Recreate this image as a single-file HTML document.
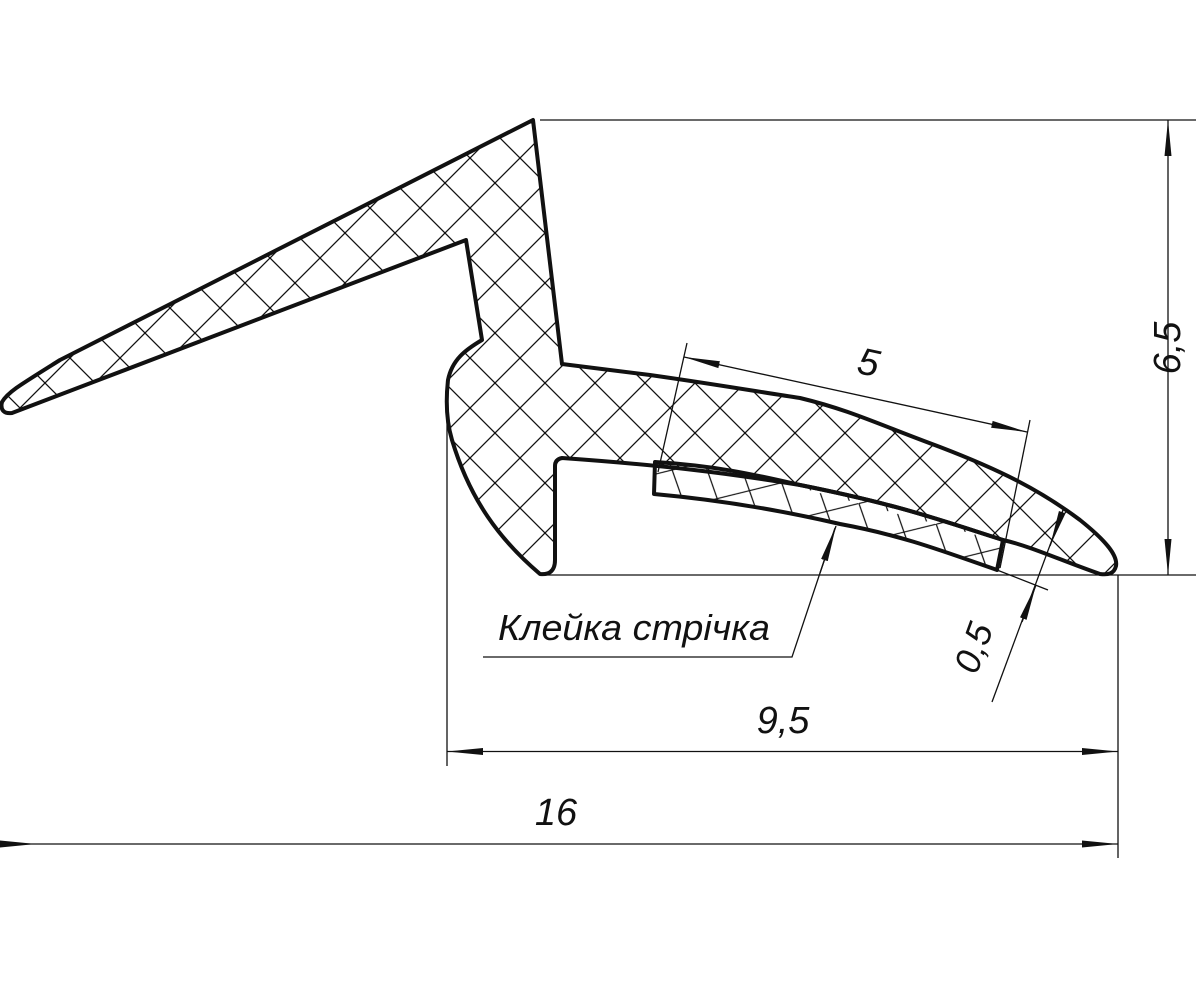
<!DOCTYPE html>
<html><head><meta charset="utf-8"><style>
html,body{margin:0;padding:0;background:#fff;}
svg{display:block}
text{font-family:"Liberation Sans","DejaVu Sans",sans-serif;font-style:italic;fill:#111;}
</style></head><body>
<svg width="1200" height="994" viewBox="0 0 1200 994" xmlns="http://www.w3.org/2000/svg">
<defs>
<pattern id="h" width="50" height="50" patternUnits="userSpaceOnUse" x="20" y="8">
<path d="M0 0L50 50M50 0L0 50M-5 45L5 55M45 -5L55 5M45 55L55 45M-5 5L5 -5" stroke="#111" stroke-width="1.3" fill="none"/>
</pattern>
<pattern id="t" width="80" height="44" patternUnits="userSpaceOnUse" patternTransform="rotate(15)">
<path d="M0 0L30 44M40 0L70 44M0 44L80 0" stroke="#111" stroke-width="1.2" fill="none"/>
</pattern>
<marker id="a" viewBox="0 0 36 10" refX="36" refY="5" markerWidth="36" markerHeight="10" markerUnits="userSpaceOnUse" orient="auto-start-reverse">
<path d="M0 1.5L36 5L0 8.5Z" fill="#111"/>
</marker>
</defs>

<path fill="url(#h)" stroke="#111" stroke-width="4" stroke-linejoin="round" d="
M533 120 L562 364 L650 375 C720 385 760 392 800 398 C850 410 880 425 940 447 C1000 470 1040 490 1080 520 C1105 540 1118 555 1116 566 C1114 574 1108 575 1100 574
C1060 560 1030 546 1003 540 C940 520 900 505 800 485 C720 472 660 465 562 458 C557 459 555 462 555 466 L555 560 C555 572 548 575 540 574 C500 540 470 500 452 440 C446 420 446 398 448 380 C452 360 465 350 482 340 L466 240 L12 413 C4 414 0 410 2 402 C8 392 20 385 60 360 Z"/>
<path fill="url(#t)" stroke="#111" stroke-width="4" stroke-linejoin="round" d="M655 462 C720 466 760 476 800 485 C900 505 940 520 1003 540 L997 570 C940 550 900 535 840 524 C780 510 720 500 654 494 Z"/>

<g stroke="#111" stroke-width="1.3" fill="none">
<line x1="540" y1="120" x2="1196" y2="120"/>
<line x1="545" y1="575" x2="1196" y2="575"/>
<line x1="1168" y1="120" x2="1168" y2="575" marker-start="url(#a)" marker-end="url(#a)"/>
<line x1="447" y1="420" x2="447" y2="766"/>
<line x1="1118" y1="575" x2="1118" y2="858"/>
<line x1="447" y1="751.5" x2="1118" y2="751.5" marker-start="url(#a)" marker-end="url(#a)"/>
<line x1="0" y1="844" x2="1118" y2="844" marker-end="url(#a)"/>
<path d="M0 840.5L36 844L0 847.5Z" fill="#111" stroke="none"/>
<line x1="687" y1="343" x2="658" y2="472"/>
<line x1="1030" y1="420" x2="1000" y2="568"/>
<line x1="684" y1="357" x2="1027" y2="432" marker-start="url(#a)" marker-end="url(#a)"/>
<line x1="997" y1="570" x2="1048" y2="590"/>
<line x1="1063" y1="510" x2="992" y2="702"/>
<line x1="1063" y1="510" x2="1050" y2="546" marker-end="url(#a)"/>
<line x1="1022" y1="622" x2="1036" y2="585" marker-end="url(#a)"/>
<polyline points="483,657 792,657 835,528"/>
<line x1="820" y1="573" x2="836" y2="526" marker-end="url(#a)"/>
</g>

<text x="1180" y="348" font-size="38" transform="rotate(-90 1180 348)" text-anchor="middle">6,5</text>
<text x="866" y="375" font-size="38" transform="rotate(12 866 375)" text-anchor="middle">5</text>
<text x="783" y="733" font-size="38" text-anchor="middle">9,5</text>
<text x="556" y="825" font-size="38" text-anchor="middle">16</text>
<text x="985" y="652" font-size="36" transform="rotate(-70 985 652)" text-anchor="middle">0,5</text>
<text x="498" y="640" font-size="36" textLength="272" lengthAdjust="spacingAndGlyphs">Клейка стрічка</text>
</svg>
</body></html>
